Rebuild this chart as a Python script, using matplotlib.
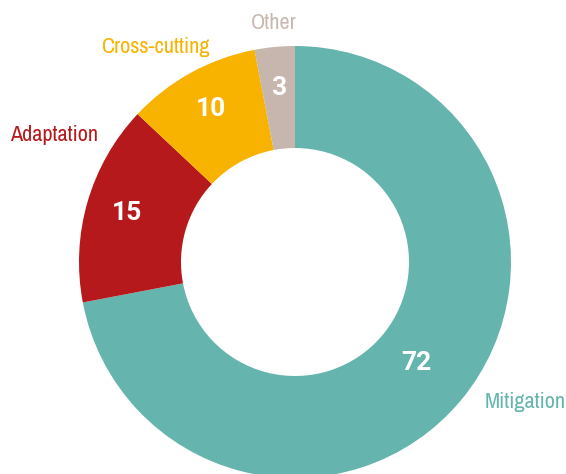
import numpy as np
import matplotlib
matplotlib.use("Agg")
import matplotlib.pyplot as plt
from matplotlib import font_manager as fm

# look for a condensed face, the original uses a narrow sans
faces = fm.fontManager.ttflist
narrow = sorted({f.name for f in faces
                 if "narrow" in f.name.lower() or "condensed" in f.name.lower()})
if "Liberation Sans Narrow" in narrow:
    narrow = ["Liberation Sans Narrow"] + narrow
if narrow:
    plt.rcParams['font.family'] = [narrow[0], 'DejaVu Sans']
    lab_size = 16
else:
    plt.rcParams['font.family'] = ['Roboto', 'DejaVu Sans']
    lab_size = 13.5

categories = ["Mitigation", "Adaptation", "Cross-cutting", "Other"]
values = [72, 15, 10, 3]
colors = ["#65b4ae", "#b5191b", "#f8b200", "#c6b6ae"]
label_colors = ["#65b4ae", "#b5191b", "#f8b200", "#c8b8b0"]

# label anchor points (pixels from top-left of the image)
label_pos = [(525, 402), (54, 135), (155, 47), (274, 23)]
# radial distance of the value labels, as fraction of outer radius
num_dist = [0.73, 0.81, 0.81, 0.81]

W, H = 566, 474
cx, cy, R = 295, 474 - 262, 216

fig = plt.figure(figsize=(W / 100, H / 100), dpi=100)
ax = fig.add_axes([0, 0, 1, 1])
ax.axis("off")

wedges, _ = ax.pie(values, colors=colors, startangle=90, counterclock=False,
                   center=(cx, cy), radius=R,
                   wedgeprops=dict(width=R - 114, linewidth=0))
ax.set_xlim(0, W)
ax.set_ylim(0, H)
ax.set_aspect("equal")

# numbers: a bold face that has a real bold file
for w, v, d in zip(wedges, values, num_dist):
    mid = np.deg2rad((w.theta1 + w.theta2) / 2)
    ax.text(cx + d * R * np.cos(mid), cy + d * R * np.sin(mid), str(v),
            color="white", fontsize=19, fontweight="bold",
            family=["Roboto", "DejaVu Sans"], ha="center", va="center")

for name, c, (px, py) in zip(categories, label_colors, label_pos):
    ax.text(px, H - py, name, color=c, fontsize=lab_size, ha="center", va="center")

plt.savefig("out.png", dpi=100)
plt.close(fig)
